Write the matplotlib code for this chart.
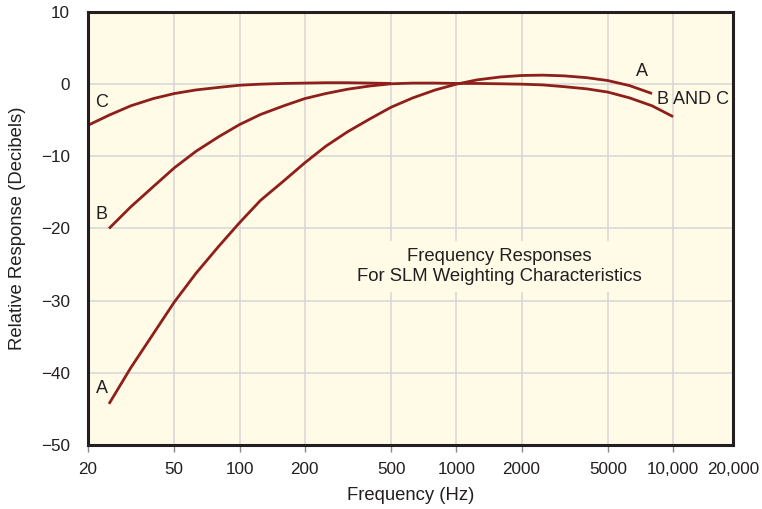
import matplotlib
matplotlib.use("Agg")
import matplotlib.pyplot as plt
from matplotlib.ticker import FixedLocator, FixedFormatter, NullLocator

plt.rcParams['font.family'] = ['Liberation Sans', 'DejaVu Sans']

# ---- data ----
freq_a = [25, 31.5, 40, 50, 63, 80, 100, 125, 160, 200, 250, 315, 400, 500, 630,
          800, 1000, 1250, 1600, 2000, 2500, 3150, 4000, 5000, 6300, 8000]
resp_a = [-44.3, -39.3, -34.6, -30.2, -26.2, -22.5, -19.2, -16.1, -13.4, -10.9, -8.6,
          -6.6, -4.8, -3.2, -1.9, -0.8, 0.0, 0.6, 1.0, 1.2, 1.25, 1.15, 0.9, 0.5, -0.2, -1.3]

freq_b = [25, 31.5, 40, 50, 63, 80, 100, 125, 160, 200, 250, 315, 400, 500, 630,
          800, 1000, 1250, 1600, 2000, 2500, 3150, 4000, 5000, 6300, 8000, 10000]
resp_b = [-20.0, -17.0, -14.2, -11.6, -9.3, -7.3, -5.6, -4.2, -3.0, -2.0, -1.3, -0.7,
          -0.25, 0.05, 0.15, 0.15, 0.1, 0.1, 0.05, 0.0, -0.1, -0.35, -0.65, -1.1, -1.9,
          -3.0, -4.5]

freq_c = [20, 25, 31.5, 40, 50, 63, 80, 100, 125, 160, 200, 250, 315, 400, 500]
resp_c = [-5.7, -4.3, -3.0, -2.0, -1.3, -0.8, -0.45, -0.15, 0.0, 0.1, 0.15, 0.2,
          0.2, 0.15, 0.1]

xticks = [20, 50, 100, 200, 500, 1000, 2000, 5000, 10000]
xtick_labels = ['20', '50', '100', '200', '500', '1000', '2000', '5000', '10,000']
extra_xtick_label = '20,000'
yticks = [-50, -40, -30, -20, -10, 0, 10]

# ---- style ----
curve_color = '#8e1f1a'
bg_color = '#fffbe7'
grid_color = '#d6d6d6'
text_color = '#231f20'
tick_fs = 12.3
label_fs = 13.3

fig = plt.figure(figsize=(7.62, 5.09), dpi=100)
ax = fig.add_axes([88/762, 1 - 445/509, (733-88)/762, (445-12)/509])
ax.set_facecolor(bg_color)
ax.set_xscale('log')
ax.set_xlim(20, 18900)
ax.set_ylim(-50, 10)

for fx, ry in ((freq_a, resp_a), (freq_b, resp_b), (freq_c, resp_c)):
    ax.plot(fx, ry, color=curve_color, lw=2.0, solid_capstyle='butt',
            solid_joinstyle='round', zorder=3)

ax.xaxis.set_major_locator(FixedLocator(xticks))
ax.xaxis.set_major_formatter(FixedFormatter(xtick_labels))
ax.xaxis.set_minor_locator(NullLocator())
ax.yaxis.set_major_locator(FixedLocator(yticks))
ax.set_yticklabels([('\u2212' + str(-v)) if v < 0 else str(v) for v in yticks])

ax.grid(True, color=grid_color, lw=1.1, zorder=0)
ax.set_axisbelow(True)

for s in ax.spines.values():
    s.set_linewidth(2.2)
    s.set_color(text_color)
    s.set_zorder(4)

ax.tick_params(axis='x', direction='out', length=5, width=1.0, color='#888888',
               labelsize=tick_fs, labelcolor=text_color, pad=7)
ax.tick_params(axis='y', length=0, labelsize=tick_fs, labelcolor=text_color, pad=13)

# the 20,000 label sits at the right edge of the frame
fig.canvas.draw()
lbl_top = ax.get_xticklabels()[0].get_window_extent().y1
inv = ax.transAxes.inverted()
ax.text(1.0, inv.transform((0, lbl_top))[1], extra_xtick_label, transform=ax.transAxes,
        ha='center', va='top', fontsize=tick_fs, color=text_color, clip_on=False)

fig.text(18/762, 1 - 228/509, 'Relative Response (Decibels)', rotation=90,
         ha='center', va='center', fontsize=label_fs, color=text_color)
fig.text(411/762, 1 - 495/509, 'Frequency (Hz)', ha='center', va='center',
         fontsize=label_fs, color=text_color)

# curve labels
lab_kw = dict(fontsize=13, color=text_color, ha='center', va='center', zorder=5)
ax.text(23.2, -2.6, 'C', **lab_kw)
ax.text(23.2, -18.0, 'B', **lab_kw)
ax.text(23.2, -42.2, 'A', **lab_kw)
ax.text(7200, 1.7, 'A', **lab_kw)
ax.text(12300, -2.1, 'B AND C', **lab_kw)

ax.text(1580, -25.3, 'Frequency Responses\nFor SLM Weighting Characteristics',
        fontsize=label_fs, color=text_color, ha='center', va='center', linespacing=1.2,
        zorder=2, bbox=dict(boxstyle='square,pad=0.4', fc=bg_color, ec='none'))

fig.savefig('out.png', dpi=100, facecolor='white')
